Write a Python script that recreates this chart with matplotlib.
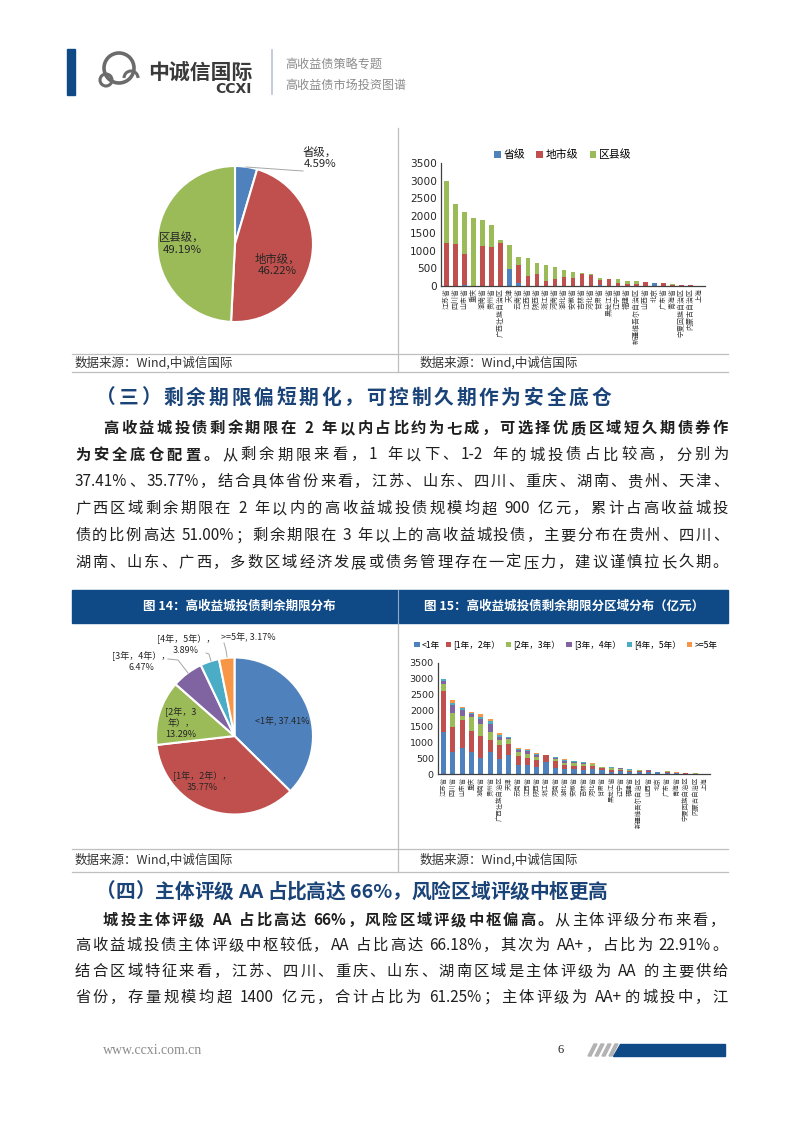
import re
import numpy as np
import matplotlib.pyplot as plt
from matplotlib.patches import Rectangle, Polygon, Circle, Arc

plt.rcParams['font.family'] = ['Noto Sans CJK SC', 'DejaVu Sans']

W, H = 802, 1133

# pie 1: share by government level
level_names = ['省级', '地市级', '区县级']
level_share = [4.59, 46.22, 49.19]

# bar 1: stock by province and level (亿元)
provinces = ['江苏省', '四川省', '山东省', '重庆', '湖南省', '贵州省', '广西壮族自治区', '天津',
             '云南省', '江西省', '陕西省', '浙江省', '河南省', '湖北省', '安徽省', '吉林省',
             '河北省', '甘肃省', '黑龙江省', '辽宁省', '福建省', '新疆维吾尔自治区', '山西省',
             '北京', '广东省', '青海省', '宁夏回族自治区', '内蒙古自治区', '上海']
prov_level = [10, 0, 20, 0, 0, 0, 0, 480, 90, 0, 0, 0, 0, 0, 0, 0, 0, 20, 0, 0, 0, 0, 0, 77, 0, 0, 0, 0, 0]
city_level = [1210, 1190, 890, 0, 1130, 1100, 1220, 0, 510, 290, 335, 145, 190, 270, 230, 335,
              305, 150, 210, 95, 50, 50, 115, 0, 96, 30, 25, 15, 5]
county_level = [1780, 1150, 1200, 1940, 750, 645, 75, 700, 215, 505, 317, 460, 357, 190, 182, 49,
                31, 60, 1, 97, 94, 84, 0, 0, 0, 18, 13, 4, 0]

# pie 2: remaining maturity
term_names = ['<1年', '[1年，2年）', '[2年，3年）', '[3年，4年）', '[4年，5年）', '>=5年']
term_share = [37.41, 35.77, 13.29, 6.47, 3.89, 3.17]

# bar 2: remaining maturity by province (亿元)
term_lt1 = [1310, 700, 820, 700, 500, 700, 460, 600, 290, 280, 230, 370, 200, 150, 150, 140,
            150, 130, 60, 80, 60, 50, 50, 70, 30, 20, 15, 8, 3]
term_1_2 = [1310, 780, 880, 670, 700, 380, 440, 350, 290, 240, 210, 220, 200, 140, 110, 110,
            110, 60, 80, 60, 50, 50, 40, 5, 30, 15, 12, 6, 2]
term_2_3 = [230, 440, 130, 440, 370, 230, 170, 160, 120, 100, 100, 10, 70, 70, 80, 70,
            40, 20, 50, 30, 20, 20, 15, 2, 20, 8, 7, 3, 0]
term_3_4 = [90, 260, 200, 70, 160, 270, 110, 30, 60, 90, 60, 5, 40, 50, 40, 40,
            20, 10, 10, 12, 8, 8, 6, 0, 10, 3, 2, 1, 0]
term_4_5 = [40, 70, 50, 30, 80, 90, 60, 20, 30, 60, 30, 0, 20, 30, 20, 15,
            10, 5, 6, 6, 4, 4, 2, 0, 3, 1, 1, 1, 0]
term_ge5 = [20, 90, 30, 30, 70, 75, 55, 20, 25, 26, 22, 0, 17, 20, 12, 9,
            6, 5, 5, 4, 2, 2, 2, 0, 3, 1, 1, 0, 0]

colors = ['#4F81BD', '#C0504D', '#9BBB59', '#8064A2', '#4BACC6', '#F79646']
navy = '#0f4a86'
head_blue = '#1a4378'
txt_col = '#1f1f1f'
line_col = '#bfbfbf'

fig = plt.figure(figsize=(W / 100, H / 100), dpi=100)
bg = fig.add_axes([0, 0, 1, 1])
bg.set_xlim(0, W)
bg.set_ylim(H, 0)
bg.axis('off')


def px_axes(x0, y0, x1, y1):
    return fig.add_axes([x0 / W, 1 - y1 / H, (x1 - x0) / W, (y1 - y0) / H])


def justify(segs, x0, x1, y, size, color=txt_col):
    # lay out tokens so the line fills x0..x1 like justified Word text
    toks = []
    for s, bold in segs:
        for m in re.finditer(r'[A-Za-z0-9.%+\-]+| |.', s):
            toks.append((m.group(), bold))
    rend = fig.canvas.get_renderer()
    items = []
    for s, bold in toks:
        if s == ' ':
            items.append((None, size * 0.22 * 100 / 72))
        else:
            t = bg.text(0, y, s, fontsize=size, color=color, va='center', ha='left',
                        fontweight='bold' if bold else 'normal')
            items.append((t, t.get_window_extent(rend).width))
    total = sum(w for _, w in items)
    gap = (x1 - x0 - total) / max(len(items) - 1, 1)
    x = x0
    for t, w in items:
        if t is not None:
            t.set_x(x)
        x += w + gap


# ---------- header ----------
bg.add_patch(Rectangle((67, 49), 8, 46, color=navy))
bg.add_patch(Circle((119, 68), 15, fill=False, ec='#6b6b6b', lw=2.6))
bg.add_patch(Circle((106, 80), 6, fill=False, ec='#6b6b6b', lw=2.2))
bg.add_patch(Arc((131, 78), 14, 14, theta1=180, theta2=360, ec='#6b6b6b', lw=2.2))
bg.text(148, 72, '中诚信国际', fontsize=15, fontweight='bold', color='#3a3a3a', va='center')
bg.text(252, 89, 'CCXI', fontsize=10, fontweight='bold', color='#3a3a3a', va='center', ha='right',
        family='DejaVu Sans')
bg.plot([272, 272], [50, 94], color='#b9c4d0', lw=1.2)
bg.text(285, 65, '高收益债策略专题', fontsize=8.7, color='#8c8c8c', va='center')
bg.text(285, 85, '高收益债市场投资图谱', fontsize=8.7, color='#8c8c8c', va='center')

# ---------- frame lines ----------
for yy in (354, 372, 849, 872):
    bg.plot([72, 728], [yy, yy], color=line_col, lw=0.9)
bg.plot([398, 398], [128, 372], color=line_col, lw=0.9)
bg.plot([398, 398], [623, 872], color=line_col, lw=0.9)
for yy in (363, 860):
    bg.text(75, yy, '数据来源：Wind,中诚信国际', fontsize=9, color='#333333', va='center')
    bg.text(420, yy, '数据来源：Wind,中诚信国际', fontsize=9, color='#333333', va='center')

# ---------- pie 1 ----------
cx, cy, r, half = 235, 244, 78, 130
ax = px_axes(cx - half, cy - half, cx + half, cy + half)
ax.pie(level_share, colors=colors[:3], startangle=90, counterclock=False, radius=1,
       wedgeprops=dict(edgecolor='white', linewidth=1.5))
ax.set_xlim(-half / r, half / r)
ax.set_ylim(-half / r, half / r)
P = lambda px, py: ((px - cx) / r, (cy - py) / r)
lab_kw = dict(fontsize=8.2, color='#262626', ha='center', va='center', linespacing=1.2)
ax.text(*P(320, 158), '%s，\n%.2f%%' % (level_names[0], level_share[0]), **lab_kw)
ax.text(*P(277, 265), '%s，\n%.2f%%' % (level_names[1], level_share[1]), **lab_kw)
ax.text(*P(182, 244), '%s，\n%.2f%%' % (level_names[2], level_share[2]), **lab_kw)
ax.plot(*zip(P(246, 167), P(303, 171)), color='#a6a6a6', lw=0.7)

# ---------- bar 1 ----------
x = np.arange(len(provinces))
ax = px_axes(441, 163, 705, 286)
b1 = np.array(prov_level)
b2 = b1 + np.array(city_level)
ax.bar(x, prov_level, 0.5, color=colors[0], label=level_names[0])
ax.bar(x, city_level, 0.5, bottom=b1, color=colors[1], label=level_names[1])
ax.bar(x, county_level, 0.5, bottom=b2, color=colors[2], label=level_names[2])
ax.set_xlim(-0.6, len(provinces) - 0.4)
ax.set_ylim(0, 3500)
ax.set_yticks(np.arange(0, 3501, 500))
ax.set_xticks([])
ax.tick_params(axis='y', length=0, pad=3, labelsize=7.6, labelcolor='#262626')
for lab in ax.get_yticklabels():
    lab.set_family('DejaVu Sans')
for s in ('top', 'right'):
    ax.spines[s].set_visible(False)
for s in ('left', 'bottom'):
    ax.spines[s].set_color('#404040')
    ax.spines[s].set_linewidth(0.9)
for i, name in enumerate(provinces):
    ax.text(i, -0.02, name, transform=ax.get_xaxis_transform(), rotation=90, ha='center',
            va='top', fontsize=5, color='#404040')
ax.legend(loc='center', bbox_to_anchor=(0.462, 1.065), ncol=3, frameon=False, fontsize=7.8,
          handlelength=0.6, handleheight=0.6, handletextpad=0.3, columnspacing=1.0)

# ---------- section three ----------
justify([('（三）剩余期限偏短期化，可控制久期作为安全底仓', True)], 96, 611, 398, 14.2, head_blue)
para3 = [
    ([('高收益城投债剩余期限在 2 年以内占比约为七成，可选择优质区域短久期债券作', True)], 103),
    ([('为安全底仓配置。', True), ('从剩余期限来看，1 年以下、1-2 年的城投债占比较高，分别为', False)], 75),
    ([('37.41%、35.77%，结合具体省份来看，江苏、山东、四川、重庆、湖南、贵州、天津、', False)], 75),
    ([('广西区域剩余期限在 2 年以内的高收益城投债规模均超 900 亿元，累计占高收益城投', False)], 75),
    ([('债的比例高达 51.00%；剩余期限在 3 年以上的高收益城投债，主要分布在贵州、四川、', False)], 75),
    ([('湖南、山东、广西，多数区域经济发展或债务管理存在一定压力，建议谨慎拉长久期。', False)], 75),
]
for k, (segs, x0) in enumerate(para3):
    justify(segs, x0, 728, 428 + 26.9 * k, 11.0)

# ---------- figure title bar ----------
bg.add_patch(Rectangle((72, 590), 656, 33, color=navy))
bg.plot([398, 398], [590, 623], color='#8fa9c8', lw=0.8)
bg.text(239, 606, '图 14：高收益城投债剩余期限分布', fontsize=9, fontweight='bold', color='white',
        ha='center', va='center')
bg.text(564, 606, '图 15：高收益城投债剩余期限分区域分布（亿元）', fontsize=9, fontweight='bold',
        color='white', ha='center', va='center')

# ---------- pie 2 ----------
cx, cy, r, half = 234.5, 736, 78.5, 125
ax = px_axes(cx - half, cy - half, cx + half, cy + half)
ax.pie(term_share, colors=colors, startangle=90, counterclock=False, radius=1,
       wedgeprops=dict(edgecolor='white', linewidth=1.5))
ax.set_xlim(-half / r, half / r)
ax.set_ylim(-half / r, half / r)
P = lambda px, py: ((px - cx) / r, (cy - py) / r)
lab_kw = dict(fontsize=6.5, color='#262626', ha='center', va='center', linespacing=1.3)
ax.text(*P(282, 722), '<1年, %.2f%%' % term_share[0], **lab_kw)
ax.text(*P(202, 782), '[1年，2年），\n%.2f%%' % term_share[1], **lab_kw)
ax.text(*P(181, 723), '[2年，3\n年），\n%.2f%%' % term_share[2], **lab_kw)
ax.text(*P(141, 662), '[3年，4年），\n%.2f%%' % term_share[3], **lab_kw)
ax.text(*P(186, 645), '[4年，5年），\n%.2f%%' % term_share[4], **lab_kw)
ax.text(*P(248, 638), '>=5年, %.2f%%' % term_share[5], **lab_kw)
lc = dict(color='#a6a6a6', lw=0.7)
ax.plot(*zip(P(168, 659), P(178, 660), P(188, 673)), **lc)
ax.plot(*zip(P(206, 653), P(209, 654), P(211, 661)), **lc)
ax.plot(*zip(P(224, 643), P(226, 650), P(227, 657)), **lc)

# ---------- bar 2 ----------
ax = px_axes(438, 663, 710, 774)
series = [term_lt1, term_1_2, term_2_3, term_3_4, term_4_5, term_ge5]
bottom = np.zeros(len(provinces))
for vals, name, c in zip(series, term_names, colors):
    ax.bar(x, vals, 0.55, bottom=bottom, color=c, label=name)
    bottom += np.array(vals)
ax.set_xlim(-0.6, len(provinces) - 0.4)
ax.set_ylim(0, 3500)
ax.set_yticks(np.arange(0, 3501, 500))
ax.set_xticks([])
ax.tick_params(axis='y', length=0, pad=3, labelsize=6.8, labelcolor='#262626')
for lab in ax.get_yticklabels():
    lab.set_family('DejaVu Sans')
for s in ('top', 'right'):
    ax.spines[s].set_visible(False)
for s in ('left', 'bottom'):
    ax.spines[s].set_color('#404040')
    ax.spines[s].set_linewidth(0.9)
for i, name in enumerate(provinces):
    ax.text(i, -0.025, name, transform=ax.get_xaxis_transform(), rotation=90, ha='center',
            va='top', fontsize=4.6, color='#404040')
ax.legend(loc='center', bbox_to_anchor=(0.47, 1.162), ncol=6, frameon=False, fontsize=6.2,
          handlelength=0.6, handleheight=0.6, handletextpad=0.25, columnspacing=0.7)

# ---------- section four ----------
justify([('（四）主体评级 AA 占比高达 66%，风险区域评级中枢更高', True)], 96, 608, 892, 14.2, head_blue)
para4 = [
    ([('城投主体评级 AA 占比高达 66%，风险区域评级中枢偏高。', True), ('从主体评级分布来看，', False)], 103, 725),
    ([('高收益城投债主体评级中枢较低，AA 占比高达 66.18%，其次为 AA+，占比为 22.91%。', False)], 75, 728),
    ([('结合区域特征来看，江苏、四川、重庆、山东、湖南区域是主体评级为 AA 的主要供给', False)], 75, 728),
    ([('省份，存量规模均超 1400 亿元，合计占比为 61.25%；主体评级为 AA+的城投中，江', False)], 75, 728),
]
for k, (segs, x0, x1) in enumerate(para4):
    justify(segs, x0, x1, 920 + 25.7 * k, 11.0)

# ---------- footer ----------
bg.text(103, 1050, 'www.ccxi.com.cn', fontsize=10, color='#8c8c8c', va='center',
        family='Liberation Serif')
bg.text(557, 1050, '6', fontsize=9, color='#262626', va='center', family='Liberation Serif')
for k in range(4):
    x0 = 588 + 7 * k
    bg.add_patch(Polygon([(x0, 1056), (x0 + 3, 1056), (x0 + 9, 1044), (x0 + 6, 1044)],
                         color='#b3b3b3'))
bg.add_patch(Polygon([(613, 1056), (725, 1056), (725, 1044), (620, 1044)], color=navy))

fig.savefig('out.png', dpi=100, facecolor='white')
